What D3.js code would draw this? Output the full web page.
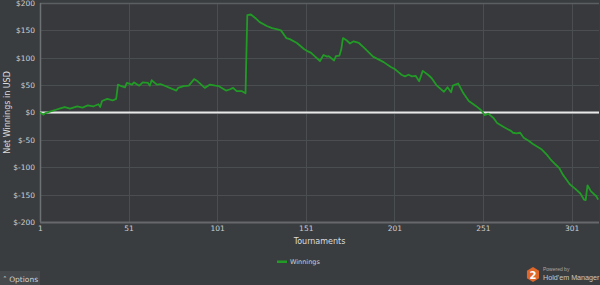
<!DOCTYPE html>
<html>
<head>
<meta charset="utf-8">
<script src="https://cdn.jsdelivr.net/npm/d3@7"></script>
<style>
  html, body { margin: 0; padding: 0; background: #3a3d40; }
  svg { display: block; }
</style>
</head>
<body>
<svg id="chart"></svg>
<script>
// tournament number / cumulative net winnings (USD)
const tournaments = [1, 3, 4, 7, 10, 12, 15, 18, 22, 25, 28, 31, 34, 35, 36, 39, 42, 44, 45, 47, 49, 50, 53, 54, 57, 59, 62, 63, 64, 67, 69, 78, 79, 82, 85, 88, 90, 94, 97, 100, 102, 106, 108, 110, 112, 115, 117, 118, 120, 122, 125, 129, 132, 135, 137, 140, 142, 146, 150, 152, 154, 156, 159, 161, 163, 164, 167, 168, 170, 171, 172, 174, 176, 178, 181, 184, 189, 195, 199, 201, 204, 205, 207, 209, 211, 213, 215, 217, 220, 222, 225, 229, 231, 233, 234, 237, 240, 243, 247, 250, 252, 254, 257, 259, 263, 267, 268, 270, 272, 274, 277, 279, 282, 284, 287, 289, 292, 294, 296, 298, 300, 303, 306, 308, 309, 310, 312, 315, 316];
const winnings = [0, -4, -1, 2, 5, 7, 10, 7, 11, 9, 13, 11, 15, 10, 21, 25, 22, 25, 51, 48, 46, 54, 51, 55, 49, 55, 54, 49, 59, 51, 52, 40, 45, 48, 49, 61, 57, 45, 51, 49, 48, 40, 42, 45, 39, 39, 35, 178, 179, 174, 165, 158, 154, 152, 150, 136, 134, 127, 116, 112, 109, 103, 94, 105, 102, 103, 95, 103, 104, 115, 136, 132, 126, 130, 127, 118, 102, 92, 83, 80, 72, 69, 66, 69, 66, 67, 57, 76, 69, 63, 49, 38, 46, 37, 49, 53, 35, 21, 12, 4, -5, -2, -10, -19, -27, -34, -37, -38, -37, -46, -52, -57, -63, -67, -77, -85, -95, -101, -113, -122, -131, -139, -148, -159, -160, -133, -144, -153, -159];

const yTicks = [200, 150, 100, 50, 0, -50, -100, -150, -200];
const xTicks = [1, 51, 101, 151, 201, 251, 301];

const W = 600, H = 285;
const plot = { left: 40, right: 599, top: 3, bottom: 222 };

const svg = d3.select("#chart").attr("width", W).attr("height", H);

svg.append("rect").attr("width", W).attr("height", H).attr("fill", "#3a3d40");

const x = d3.scaleLinear().domain([1, 316.5]).range([plot.left, plot.right]);
const y = d3.scaleLinear().domain([-200, 200]).range([plot.bottom, plot.top]);

// plot background
svg.append("rect")
    .attr("x", plot.left).attr("y", plot.top)
    .attr("width", plot.right - plot.left).attr("height", plot.bottom - plot.top)
    .attr("fill", "#37393c");

// grid
const grid = svg.append("g").attr("stroke", "#4b4e51").attr("stroke-width", 1);
yTicks.forEach((v) => {
    grid.append("line")
        .attr("x1", plot.left).attr("x2", plot.right)
        .attr("y1", Math.round(y(v)) + 0.5).attr("y2", Math.round(y(v)) + 0.5);
});
xTicks.forEach((v) => {
    grid.append("line")
        .attr("x1", Math.round(x(v)) + 0.5).attr("x2", Math.round(x(v)) + 0.5)
        .attr("y1", plot.top).attr("y2", plot.bottom);
});

// frame
svg.append("line").attr("x1", plot.left).attr("x2", plot.right)
    .attr("y1", plot.top + 0.5).attr("y2", plot.top + 0.5)
    .attr("stroke", "#5c5f62").attr("stroke-width", 1.5);
svg.append("line").attr("x1", plot.left + 0.5).attr("x2", plot.left + 0.5)
    .attr("y1", plot.top).attr("y2", plot.bottom)
    .attr("stroke", "#6e7174").attr("stroke-width", 1.5);
svg.append("line").attr("x1", plot.left).attr("x2", plot.right)
    .attr("y1", plot.bottom + 0.5).attr("y2", plot.bottom + 0.5)
    .attr("stroke", "#66696c").attr("stroke-width", 2);

// zero line
svg.append("line").attr("x1", plot.left).attr("x2", plot.right)
    .attr("y1", y(0)).attr("y2", y(0))
    .attr("stroke", "#e8e8e8").attr("stroke-width", 2);

// axes
const yAxis = svg.append("g")
    .attr("transform", `translate(${plot.left},0)`)
    .call(d3.axisLeft(y).tickValues(yTicks).tickSize(0).tickPadding(5).tickFormat((d) => "$" + d));
const xAxis = svg.append("g")
    .attr("transform", `translate(0,${plot.bottom})`)
    .call(d3.axisBottom(x).tickValues(xTicks).tickSize(0).tickPadding(4));
[yAxis, xAxis].forEach((a) => {
    a.select(".domain").remove();
    a.selectAll("text")
        .attr("fill", "#cfcfcf")
        .style("font-family", "DejaVu Sans, sans-serif")
        .style("font-size", "7.5px");
});

// line
const line = d3.line().x((d, i) => x(tournaments[i])).y((d) => y(d));
svg.append("path")
    .datum(winnings)
    .attr("d", line)
    .attr("fill", "none")
    .attr("stroke", "#229a26")
    .attr("stroke-width", 1.8)
    .attr("stroke-linejoin", "round");

// axis titles
svg.append("text")
    .attr("x", (plot.left + plot.right) / 2).attr("y", 244)
    .attr("text-anchor", "middle")
    .attr("fill", "#dcdcdc")
    .style("font-family", "DejaVu Sans, sans-serif").style("font-size", "8px")
    .text("Tournaments");
svg.append("text")
    .attr("transform", `translate(10,${y(0)}) rotate(-90)`)
    .attr("text-anchor", "middle")
    .attr("fill", "#dcdcdc")
    .style("font-family", "DejaVu Sans, sans-serif").style("font-size", "8px")
    .text("Net Winnings in USD");

// legend
svg.append("rect").attr("x", 277).attr("y", 260.5).attr("width", 10).attr("height", 2.5).attr("fill", "#229a26");
svg.append("text")
    .attr("x", 290).attr("y", 264)
    .attr("fill", "#d0d0d0")
    .style("font-family", "DejaVu Sans, sans-serif").style("font-size", "6.5px")
    .text("Winnings");

// options button
svg.append("rect").attr("x", 0).attr("y", 271).attr("width", 40).attr("height", 14).attr("fill", "#46494c");
svg.append("text")
    .attr("x", 3).attr("y", 282)
    .attr("fill", "#d0d0d0")
    .style("font-family", "DejaVu Sans, sans-serif").style("font-size", "7.5px")
    .text("\u02C4  Options");

// powered by logo
const hex = d3.range(6).map((i) => {
    const a = Math.PI / 3 * i + Math.PI / 6;
    return [533 + 7 * Math.cos(a), 274.5 + 7.5 * Math.sin(a)];
});
svg.append("polygon").attr("points", hex.map((p) => p.join(",")).join(" ")).attr("fill", "#e0672a");
svg.append("text")
    .attr("x", 533).attr("y", 278.5).attr("text-anchor", "middle")
    .attr("fill", "#ffffff")
    .style("font-family", "DejaVu Sans, sans-serif").style("font-size", "10px").style("font-weight", "bold")
    .text("2");
svg.append("text")
    .attr("x", 543).attr("y", 271)
    .attr("fill", "#a8a8a8")
    .style("font-family", "Liberation Sans, sans-serif").style("font-size", "5px")
    .text("Powered by");
svg.append("text")
    .attr("x", 543).attr("y", 280)
    .attr("fill", "#c8c8c8")
    .style("font-family", "Liberation Sans, sans-serif").style("font-size", "7.2px")
    .text("Hold'em Manager");
</script>
</body>
</html>
